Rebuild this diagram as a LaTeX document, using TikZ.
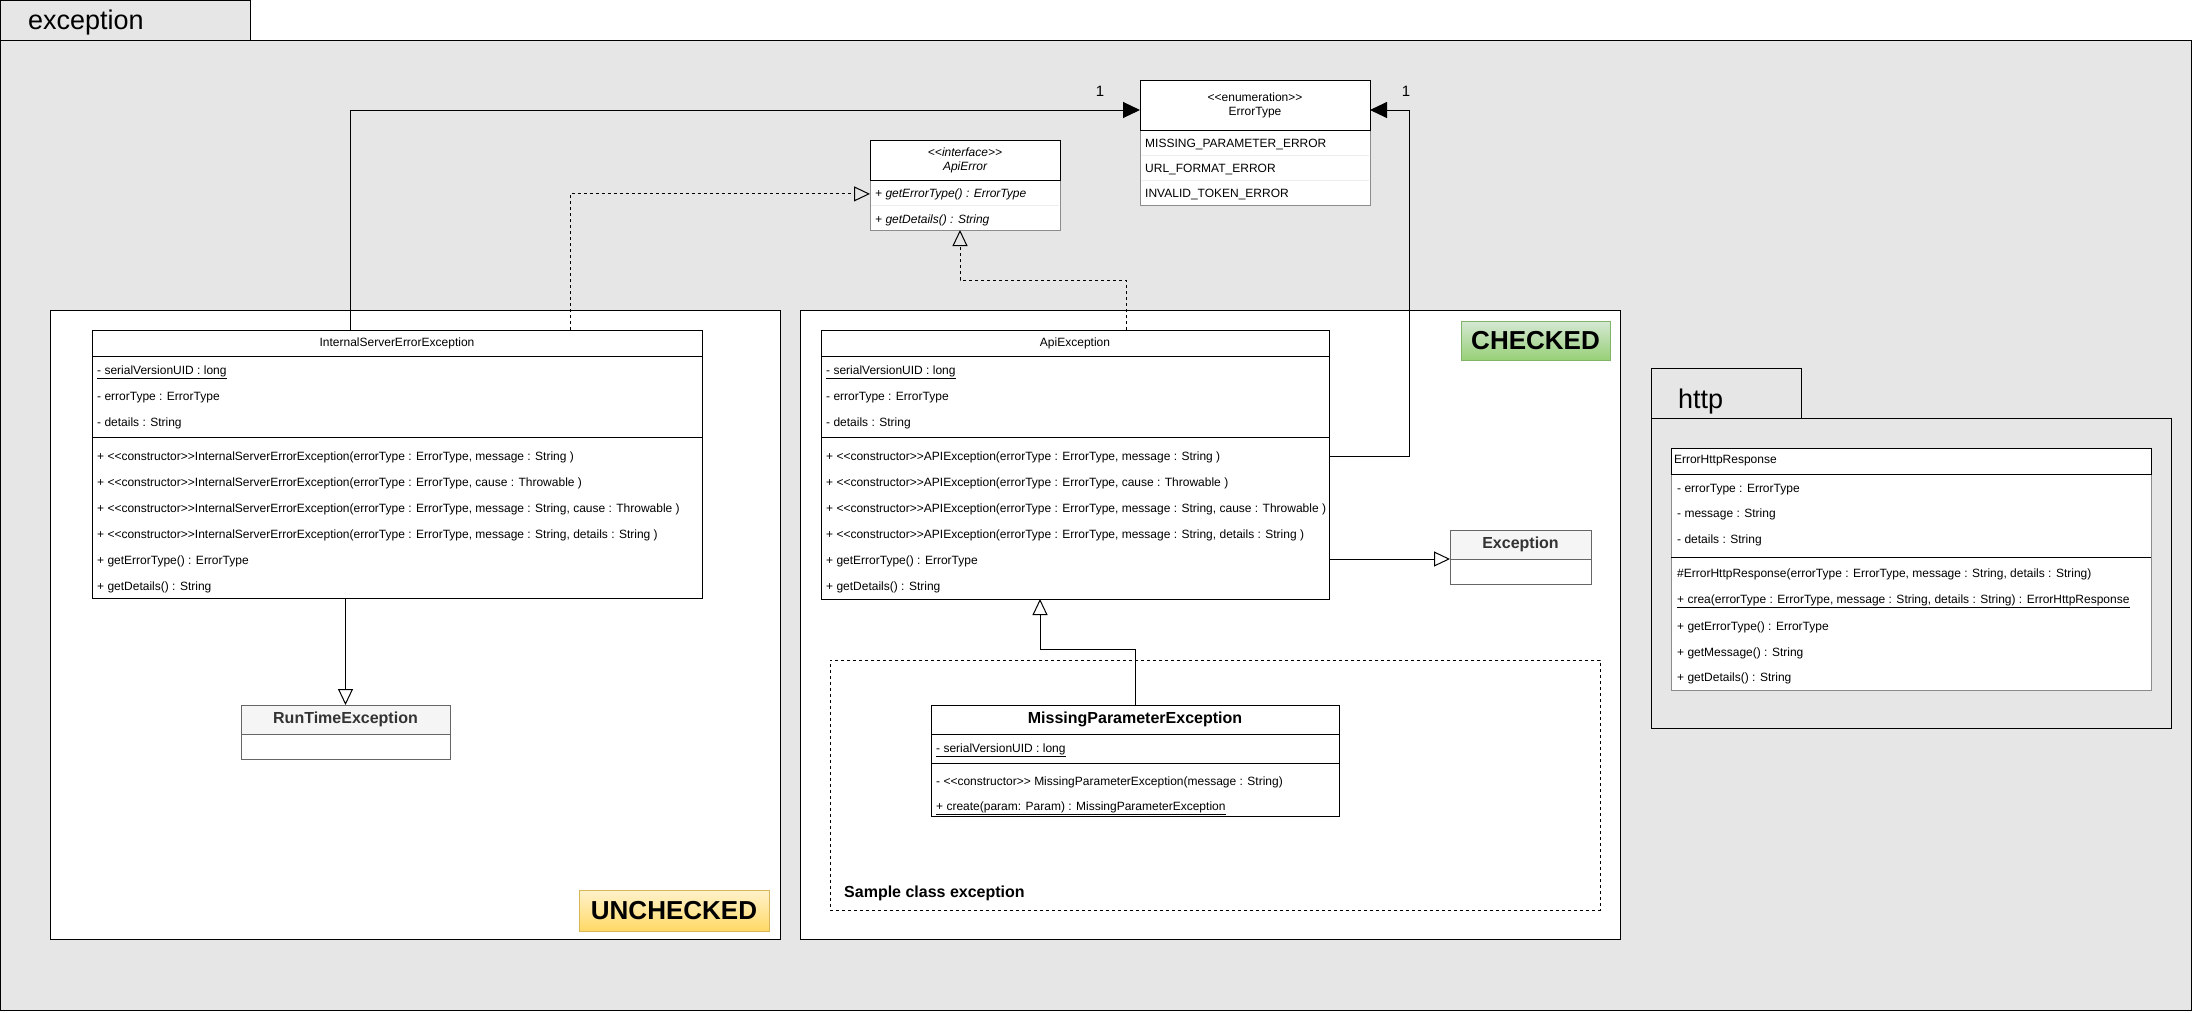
\documentclass[tikz,border=0pt]{standalone}
\usepackage{fontspec}
\setmainfont{Liberation Sans}
\usetikzlibrary{arrows.meta}

\definecolor{pkggray}{HTML}{E6E6E6}
\definecolor{bodyline}{HTML}{8C8C8C}
\definecolor{rowsep}{HTML}{EDEDED}
\definecolor{libfill}{HTML}{F5F5F5}
\definecolor{libline}{HTML}{666666}
\definecolor{libtext}{HTML}{333333}
\definecolor{greentop}{HTML}{D5E8D4}
\definecolor{greenbot}{HTML}{97D077}
\definecolor{greenline}{HTML}{82B366}
\definecolor{yellowtop}{HTML}{FFF2CC}
\definecolor{yellowbot}{HTML}{FFD966}
\definecolor{yellowline}{HTML}{D6B656}

\newcommand{\stereo}[1]{\textless\kern0pt\textless\kern0pt#1\kern0pt\textgreater\kern0pt\textgreater}

\tikzset{
  pkg/.style={draw, fill=pkggray, line width=1pt},
  pkglabel/.style={anchor=base west, inner sep=0pt, font=\fontsize{27}{30}\selectfont},
  zone/.style={draw, fill=white, line width=1pt, anchor=north west, inner sep=0pt, outer sep=0pt},
  sampleframe/.style={draw, line width=1pt, dash pattern=on 3pt off 3pt, anchor=north west, inner sep=0pt, outer sep=0pt},
  tag/.style={draw, line width=1pt, inner sep=0pt, outer sep=0pt, font=\fontsize{26}{30}\selectfont\bfseries},
  classhead/.style={draw, fill=white, line width=1pt, anchor=north west, inner sep=0pt, outer sep=0pt,
    align=center, font=\fontsize{12}{14}\selectfont},
  classbody/.style={draw, fill=white, line width=1pt, anchor=north west, inner sep=0pt, outer sep=0pt},
  libhead/.style={classhead, draw=libline, fill=libfill, text=libtext, font=\fontsize{16}{18}\selectfont\bfseries},
  libbody/.style={classbody, draw=libline},
  member/.style={anchor=base west, inner sep=0pt, font=\fontsize{12}{14}\selectfont},
  divider/.style={line width=1pt},
  rowline/.style={draw=rowsep, line width=1pt},
  mult/.style={inner sep=0pt, font=\fontsize{15}{17}\selectfont},
  note/.style={anchor=base west, inner sep=0pt, font=\fontsize{16}{18}\selectfont\bfseries},
  assoc/.style={line width=1pt, -{Triangle[length=17pt,width=16pt]}},
  inherit/.style={line width=1pt, -{Triangle[open,length=16pt,width=15pt]}},
  realize/.style={inherit, dash pattern=on 3pt off 3pt}
}

\begin{document}
\begin{tikzpicture}[x=1pt, y=-1pt]
  \useasboundingbox (0,0) rectangle (2192,1012);

  % packages
  \draw[pkg] (0.5,0.5) rectangle (250,40);
  \draw[pkg] (0.5,40) rectangle (2191,1010);
  \node[pkglabel] (excPkg) at (28,29) {exception};

  \draw[pkg] (1651,368) rectangle (1801,418);
  \draw[pkg] (1651,418) rectangle (2171,728);
  \node[pkglabel] (httpPkg) at (1678,408) {http};

  % zones
  \node[zone, minimum width=730pt, minimum height=629pt] (unchecked) at (50,310) {};
  \node[zone, minimum width=820pt, minimum height=629pt] (checked) at (800,310) {};
  \node[sampleframe, minimum width=770pt, minimum height=250pt] (sample) at (830,660) {};
  \node[note] (sampleLbl) at (844,897) {Sample class exception};

  \node[tag, top color=yellowtop, bottom color=yellowbot, draw=yellowline,
        minimum width=190pt, minimum height=41pt] (uncheckedTag) at (674,910.5) {UNCHECKED};
  \node[tag, top color=greentop, bottom color=greenbot, draw=greenline,
        minimum width=149pt, minimum height=39pt] (checkedTag) at (1535.5,340.5) {CHECKED};

  % ErrorType
  \node[classbody, draw=bodyline, minimum width=230pt, minimum height=75pt] (errBody) at (1140,130) {};
  \draw[rowline] (1141,155.5) -- (1369,155.5);
  \draw[rowline] (1141,180.5) -- (1369,180.5);
  \node[classhead, minimum width=230pt, minimum height=50pt] (errHead) at (1140,80) {\stereo{enumeration}\\ErrorType};
  \node[member] (errF1) at (1145,147) {MISSING\_PARAMETER\_ERROR};
  \node[member] (errF2) at (1145,172) {URL\_FORMAT\_ERROR};
  \node[member] (errF3) at (1145,197) {INVALID\_TOKEN\_ERROR};

  % ApiError
  \node[classbody, draw=bodyline, minimum width=190pt, minimum height=50pt] (apiErrBody) at (870,180) {};
  \draw[rowline] (871,205.5) -- (1059,205.5);
  \node[classhead, minimum width=190pt, minimum height=40pt, font=\fontsize{12}{14}\selectfont\itshape] (apiErrHead) at (870,140) {\stereo{interface}\\ApiError};
  \node[member, font=\fontsize{12}{14}\selectfont\itshape] (apiErrM1) at (875,197) {+ getErrorType() : ErrorType};
  \node[member, font=\fontsize{12}{14}\selectfont\itshape] (apiErrM2) at (875,223) {+ getDetails() : String};

  % InternalServerErrorException
  \node[classbody, minimum width=610pt, minimum height=242pt] (iseBody) at (92,356) {};
  \node[classhead, minimum width=610pt, minimum height=26pt] (iseHead) at (92,330) {InternalServerErrorException};
  \draw[divider] (92,437.5) -- (702,437.5);
  \node[member] (iseF1) at (97,374) {\underline{- serialVersionUID : long}};
  \node[member] (iseF2) at (97,400) {- errorType : ErrorType};
  \node[member] (iseF3) at (97,426) {- details : String};
  \node[member] (iseM1) at (97,460) {+ \stereo{constructor}InternalServerErrorException(errorType : ErrorType, message : String )};
  \node[member] (iseM2) at (97,486) {+ \stereo{constructor}InternalServerErrorException(errorType : ErrorType, cause : Throwable )};
  \node[member] (iseM3) at (97,512) {+ \stereo{constructor}InternalServerErrorException(errorType : ErrorType, message : String, cause : Throwable )};
  \node[member] (iseM4) at (97,538) {+ \stereo{constructor}InternalServerErrorException(errorType : ErrorType, message : String, details : String )};
  \node[member] (iseM5) at (97,564) {+ getErrorType() : ErrorType};
  \node[member] (iseM6) at (97,590) {+ getDetails() : String};

  % RunTimeException
  \node[libbody, minimum width=209pt, minimum height=25pt] (rteBody) at (241,734) {};
  \node[libhead, minimum width=209pt, minimum height=29pt] (rteHead) at (241,705) {RunTimeException};

  % ApiException
  \node[classbody, minimum width=508pt, minimum height=243pt] (apiBody) at (821,356) {};
  \node[classhead, minimum width=508pt, minimum height=26pt] (apiHead) at (821,330) {ApiException};
  \draw[divider] (821,437.5) -- (1329,437.5);
  \node[member] (apiF1) at (826,374) {\underline{- serialVersionUID : long}};
  \node[member] (apiF2) at (826,400) {- errorType : ErrorType};
  \node[member] (apiF3) at (826,426) {- details : String};
  \node[member] (apiM1) at (826,460) {+ \stereo{constructor}APIException(errorType : ErrorType, message : String )};
  \node[member] (apiM2) at (826,486) {+ \stereo{constructor}APIException(errorType : ErrorType, cause : Throwable )};
  \node[member] (apiM3) at (826,512) {+ \stereo{constructor}APIException(errorType : ErrorType, message : String, cause : Throwable )};
  \node[member] (apiM4) at (826,538) {+ \stereo{constructor}APIException(errorType : ErrorType, message : String, details : String )};
  \node[member] (apiM5) at (826,564) {+ getErrorType() : ErrorType};
  \node[member] (apiM6) at (826,590) {+ getDetails() : String};

  % Exception
  \node[libbody, minimum width=141pt, minimum height=25pt] (excBody) at (1450,559) {};
  \node[libhead, minimum width=141pt, minimum height=29pt] (excHead) at (1450,530) {Exception};

  % MissingParameterException
  \node[classbody, minimum width=408pt, minimum height=82pt] (mpeBody) at (931,734) {};
  \node[classhead, minimum width=408pt, minimum height=29pt, font=\fontsize{16}{18}\selectfont\bfseries] (mpeHead) at (931,705) {MissingParameterException};
  \draw[divider] (931,763) -- (1339,763);
  \node[member] (mpeF1) at (936,752) {\underline{- serialVersionUID : long}};
  \node[member] (mpeM1) at (936,785) {- \stereo{constructor} MissingParameterException(message : String)};
  \node[member] (mpeM2) at (936,810) {\underline{+ create(param: Param) : MissingParameterException}};

  % ErrorHttpResponse
  \node[classbody, draw=bodyline, minimum width=480pt, minimum height=216pt] (ehrBody) at (1671,474) {};
  \draw[divider] (1671,557) -- (2151,557);
  \node[classhead, minimum width=480pt, minimum height=26pt, text width=474pt, inner xsep=3pt, align=left] (ehrHead) at (1671,448) {ErrorHttpResponse};
  \node[member] (ehrF1) at (1677,492) {- errorType : ErrorType};
  \node[member] (ehrF2) at (1677,517) {- message : String};
  \node[member] (ehrF3) at (1677,543) {- details : String};
  \node[member] (ehrM1) at (1677,577) {\#ErrorHttpResponse(errorType : ErrorType, message : String, details : String)};
  \node[member] (ehrM2) at (1677,603) {\underline{+ crea(errorType : ErrorType, message : String, details : String) : ErrorHttpResponse}};
  \node[member] (ehrM3) at (1677,630) {+ getErrorType() : ErrorType};
  \node[member] (ehrM4) at (1677,656) {+ getMessage() : String};
  \node[member] (ehrM5) at (1677,681) {+ getDetails() : String};

  % connectors
  \draw[assoc] ([xshift=-47pt]iseHead.north) |- ([yshift=-30pt]errHead.north west);
  \node[mult] (mult1) at (1100,91) {1};
  \draw[assoc] (apiBody.east |- apiM1.west) -- ++(80,0) |- ([yshift=-30pt]errHead.north east);
  \node[mult] (mult2) at (1406,91) {1};

  \draw[realize] ([xshift=173pt]iseHead.north) |- (apiErrBody.west |- apiErrM1.west);
  \draw[realize] ([xshift=51pt]apiHead.north) -- ++(0,-50) -| ([xshift=-5pt]apiErrBody.south);

  \draw[inherit] (rteHead.north |- iseBody.south) -- (rteHead.north);
  \draw[inherit] (apiBody.east |- excHead.south west) -- (excHead.south west);
  \draw[inherit] (mpeHead.north) -- ++(0,-56) -| ([xshift=-35pt]apiBody.south);

\end{tikzpicture}
\end{document}
